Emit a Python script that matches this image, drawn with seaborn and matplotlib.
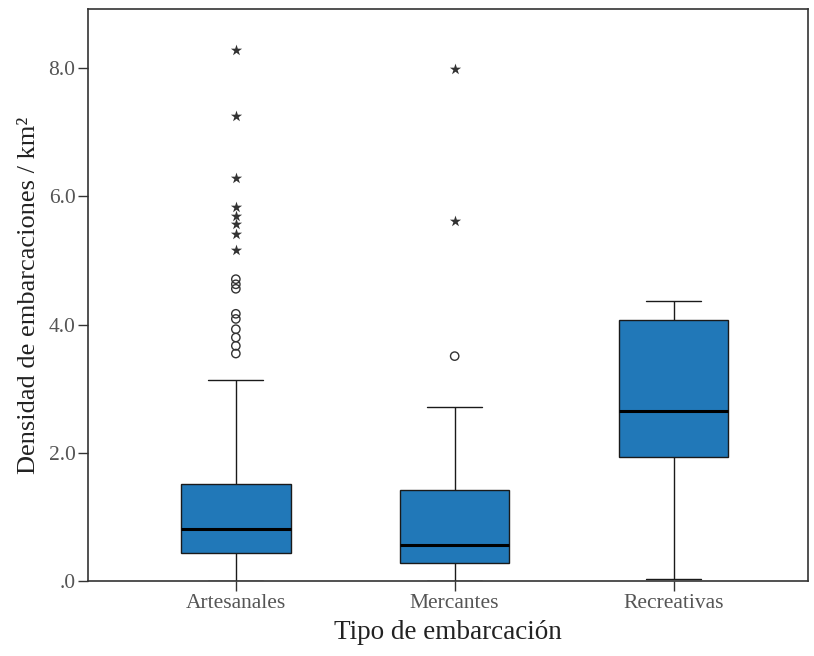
#!/usr/bin/env python3

import pandas as pd
import matplotlib.pyplot as plt
import seaborn as sns

# box summaries: lower whisker, Q1, median, Q3, upper whisker
categories = ['Artesanales', 'Mercantes', 'Recreativas']
whisker_low = [0.01, 0.0, 0.03]
q1 = [0.44, 0.28, 1.94]
medians = [0.82, 0.56, 2.66]
q3 = [1.52, 1.43, 4.07]
whisker_high = [3.13, 2.72, 4.37]

# outliers (circles) and extremes (stars)
outlier_cat = ['Artesanales'] * 9 + ['Mercantes']
outlier_val = [4.71, 4.63, 4.56, 4.17, 4.09, 3.93, 3.80, 3.67, 3.55, 3.51]
extreme_cat = ['Artesanales'] * 8 + ['Mercantes'] * 2
extreme_val = [8.29, 7.26, 6.28, 5.83, 5.69, 5.57, 5.41, 5.16, 7.98, 5.61]

tick_vals = [0, 2, 4, 6, 8]
tick_labels = ['.0', '2.0', '4.0', '6.0', '8.0']

BLUE = '#2178b8'

# five points per group -> quartiles land exactly on the summary values
rows = []
for i, c in enumerate(categories):
    for v in (whisker_low[i], q1[i], medians[i], q3[i], whisker_high[i]):
        rows.append({'tipo': c, 'densidad': v})
box_df = pd.DataFrame(rows)
out_df = pd.DataFrame({'tipo': outlier_cat, 'densidad': outlier_val})
ext_df = pd.DataFrame({'tipo': extreme_cat, 'densidad': extreme_val})

sns.set_style('white')
plt.rcParams['font.family'] = ['Liberation Serif', 'DejaVu Serif']

fig, ax = plt.subplots(figsize=(8.14, 6.56), dpi=100)
fig.subplots_adjust(left=0.108, right=0.993, top=0.986, bottom=0.114)

sns.boxplot(data=box_df, x='tipo', y='densidad', order=categories,
            color=BLUE, saturation=1, width=0.5, whis=(0, 100),
            showfliers=False, linewidth=1.0, linecolor='#1a1a1a',
            medianprops={'color': 'black', 'linewidth': 2.2},
            ax=ax)

sns.stripplot(data=out_df, x='tipo', y='densidad', order=categories,
              jitter=False, marker='o', size=6, facecolors='none',
              edgecolor='#333333', linewidth=1.0, ax=ax)
sns.stripplot(data=ext_df, x='tipo', y='densidad', order=categories,
              jitter=False, marker='*', size=8.5, color='#333333',
              linewidth=0, ax=ax)

ax.set_xlim(-0.676, 2.616)
ax.set_ylim(0, 8.92)
ax.set_yticks(tick_vals, tick_labels)

for s in ax.spines.values():
    s.set_visible(True)
    s.set_color('#333333')
    s.set_linewidth(1.2)

ax.tick_params(axis='both', which='major', direction='out', length=7,
               width=1.0, color='#333333', labelcolor='#555555',
               labelsize=15.5, left=True, bottom=True, pad=2)

ax.set_xlabel('Tipo de embarcación', fontsize=19.5, color='#222222', labelpad=5)
ax.set_ylabel('Densidad de embarcaciones / km²', fontsize=19,
              color='#222222', labelpad=6)

fig.savefig('out.png', dpi=100)
